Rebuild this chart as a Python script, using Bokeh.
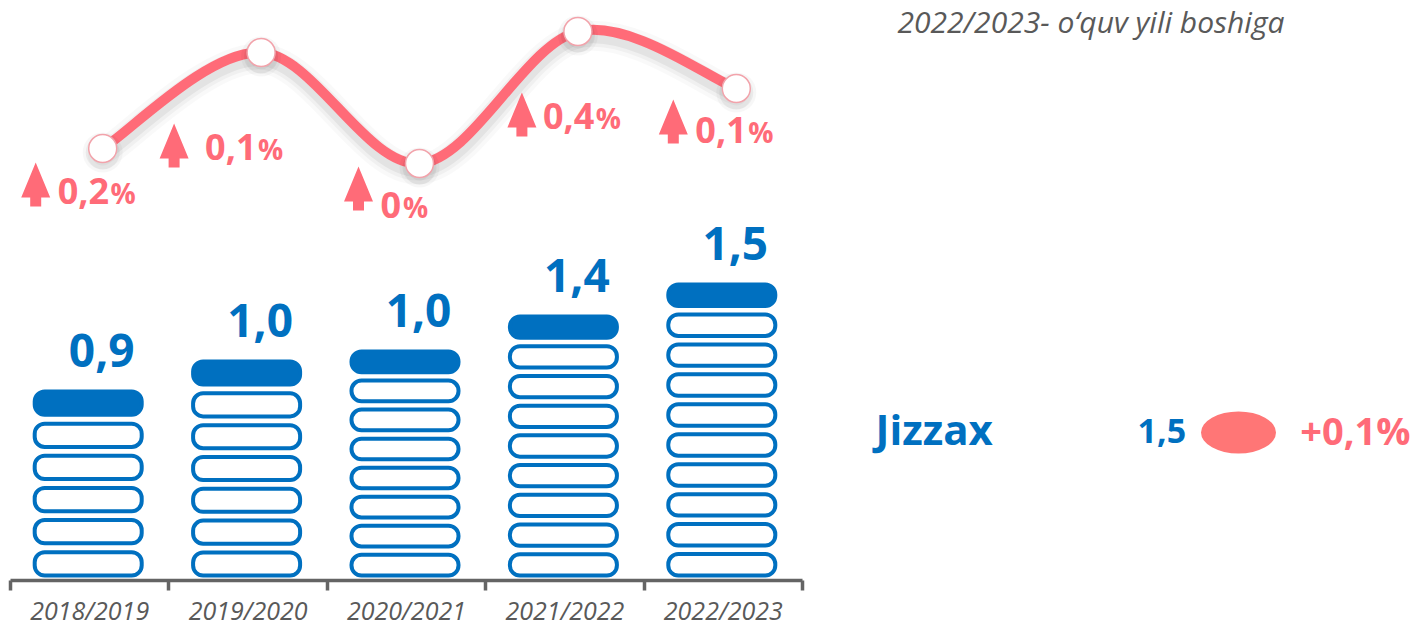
import numpy as np
from bokeh.plotting import figure
from bokeh.models import Range1d, FixedTicker, ColumnDataSource
from bokeh.embed import file_html
from bokeh.resources import INLINE
from bokeh.core.properties import value

# ---------------- data ----------------
years = ["2018/2019", "2019/2020", "2020/2021", "2021/2022", "2022/2023"]
values = [0.9, 1.0, 1.0, 1.4, 1.5]          # bar labels
growth = [0.2, 0.1, 0.0, 0.4, 0.1]          # % growth labels
bar_height = [188, 218, 228, 263, 295]      # drawn height of the pictorial bars (hidden axis units)
pill_count = [6, 7, 8, 9, 10]               # number of stacked symbols per bar
line_level = [429, 525, 414, 546, 489]      # decorative trend line (hidden axis units)
region = "Jizzax"
subtitle = "2022/2023- o\u2018quv yili boshiga"

# ---------------- annotation layout (px) ----------------
arrow_dx = [-54, -74, -48, -43, -50]        # arrow centre relative to category centre
arrow_base = [371, 410, 367, 441, 434]      # arrow bottom (hidden axis units)
pct_dx = [-32, -43, -26, -22, -28]          # text left edge relative to category centre
pct_base = [374, 418, 360, 449, 435]        # text baseline (hidden axis units)

BLUE = "#0070C0"
PINK = "#FF6B78"
SALMON = "#FF7676"
AXIS_GREY = "#646464"
LABEL_GREY = "#595959"
FONT = "Open Sans"
BASE_FIX = 0.36                             # em correction for the text baseline

N = len(years)
UX = 158.4                                  # px per category
FRAME_W, FRAME_H = 1400, 580
TOP = FRAME_H - 3                           # y data at frame top
PX = 1.0 / UX


def fmt1(v):
    return ("%.1f" % v).replace(".", ",")


def fmtg(v):
    return ("%g" % v).replace(".", ",")


def ax_x(img_x):            # picture x (px) -> data x
    return (img_x - 10) / UX


def ax_y(img_y):            # picture y (px) -> data y
    return TOP - img_y


p = figure(frame_width=FRAME_W, frame_height=FRAME_H,
           x_range=Range1d(0, FRAME_W / UX), y_range=Range1d(-3, TOP),
           output_backend="svg", toolbar_location=None, y_axis_location=None,
           min_border_left=10, min_border_right=0, min_border_top=0, min_border_bottom=0)
p.outline_line_color = None
p.xgrid.visible = False
p.ygrid.visible = False

centers = [i + 0.5 for i in range(N)]

# ---------------- pictorial bars ----------------
L, R, B, T, F = [], [], [], [], []
half_w = 53.5 * PX
for c, h, n in zip(centers, bar_height, pill_count):
    pitch = h / (n - 0.15)
    ph = 0.85 * pitch
    for k in range(n):
        b = k * pitch
        L.append(c - half_w - 1.5 * PX)
        R.append(c + half_w - 1.5 * PX)
        B.append(b + 2)
        T.append(b + ph - 2)
        F.append(BLUE if k == n - 1 else "white")
p.quad(left="l", right="r", bottom="b", top="t",
       source=ColumnDataSource(dict(l=L, r=R, b=B, t=T, f=F)),
       fill_color="f", line_color=BLUE, line_width=4, border_radius=10)

# value labels
p.text(x=centers, y=bar_height, text=[fmt1(v) for v in values],
       x_offset=12, y_offset=-22 - BASE_FIX * 46, text_align="center",
       text_baseline="alphabetic",
       text_font=value(FONT), text_font_style="bold", text_font_size="46px",
       text_color=BLUE)

# ---------------- smooth trend line ----------------
lx = [c + 13 * PX for c in centers]
ly = list(line_level)
pts = np.array(list(zip(lx, ly)), dtype=float)
x0, y0, x1, y1, cx0, cy0, cx1, cy1 = [], [], [], [], [], [], [], []
for i in range(N - 1):
    pm = pts[max(i - 1, 0)]
    pa = pts[i]
    pb = pts[i + 1]
    pn = pts[min(i + 2, N - 1)]
    c0 = pa + (pb - pm) / 6.0
    c1 = pb - (pn - pa) / 6.0
    x0.append(pa[0]); y0.append(pa[1]); x1.append(pb[0]); y1.append(pb[1])
    cx0.append(c0[0]); cy0.append(c0[1]); cx1.append(c1[0]); cy1.append(c1[1])

for w, a in [(30, 0.025), (22, 0.035), (15, 0.05)]:
    sh = 6
    p.bezier(x0=x0, y0=[v - sh for v in y0], x1=x1, y1=[v - sh for v in y1],
             cx0=cx0, cy0=[v - sh for v in cy0], cx1=cx1, cy1=[v - sh for v in cy1],
             line_color="black", line_alpha=a, line_width=w, line_cap="round")
p.bezier(x0=x0, y0=y0, x1=x1, y1=y1, cx0=cx0, cy0=cy0, cx1=cx1, cy1=cy1,
         line_color=PINK, line_width=10, line_cap="round")
for s, a in [(40, 0.03), (34, 0.05)]:
    p.scatter(lx, [v - 4 for v in ly], size=s, marker="circle",
              fill_color="black", fill_alpha=a, line_color=None)
p.scatter(lx, ly, size=28, marker="circle", fill_color="white",
          line_color="#F2A3AB", line_width=1.5)

# ---------------- growth arrows + labels ----------------
shape = [(-5.5, 0), (5.5, 0), (5.5, 9), (14.5, 9), (0, 44), (-14.5, 9), (-5.5, 9)]
axs, ays = [], []
for c, dx, b in zip(centers, arrow_dx, arrow_base):
    axs.append([c + (dx + sx) * PX for sx, sy in shape])
    ays.append([b + sy for sx, sy in shape])
p.patches(axs, ays, fill_color=PINK, line_color=None)

CW = {",": 0.27}
num_txt = [fmtg(g) for g in growth]
p.text(x=[c + d * PX for c, d in zip(centers, pct_dx)], y=pct_base, text=num_txt,
       y_offset=-BASE_FIX * 36,
       text_align="left", text_baseline="alphabetic",
       text_font=value(FONT), text_font_style="bold", text_font_size="36px",
       text_color=PINK)
pct_x = []
for c, d, t in zip(centers, pct_dx, num_txt):
    w = sum(CW.get(ch, 0.572) for ch in t) * 36
    pct_x.append(c + (d + w + 2) * PX)
p.text(x=pct_x, y=pct_base, text=["%"] * N, y_offset=-BASE_FIX * 28,
       text_align="left", text_baseline="alphabetic",
       text_font=value(FONT), text_font_style="bold", text_font_size="28px",
       text_color=PINK)

# ---------------- x axis ----------------
ax = p.xaxis[0]
ax.bounds = (0, N)
ax.ticker = FixedTicker(ticks=centers, minor_ticks=list(range(N + 1)))
ax.major_label_overrides = {c: y for c, y in zip(centers, years)}
ax.axis_line_color = AXIS_GREY
ax.axis_line_width = 3.5
ax.major_tick_line_color = None
ax.major_tick_out = 0
ax.major_tick_in = 0
ax.minor_tick_line_color = AXIS_GREY
ax.minor_tick_line_width = 3.5
ax.minor_tick_out = 10
ax.minor_tick_in = 0
ax.major_label_standoff = 2
ax.major_label_text_font = FONT
ax.major_label_text_font_style = "italic"
ax.major_label_text_font_size = "25px"
ax.major_label_text_color = LABEL_GREY

# ---------------- right-hand summary ----------------
p.text(x=[ax_x(897)], y=[ax_y(32)], text=[subtitle], y_offset=-BASE_FIX * 30,
       text_align="left", text_baseline="alphabetic",
       text_font=value(FONT), text_font_style="italic", text_font_size="30px",
       text_color=LABEL_GREY)
p.text(x=[ax_x(875)], y=[ax_y(443)], text=[region], y_offset=-BASE_FIX * 42,
       text_align="left", text_baseline="alphabetic",
       text_font=value(FONT), text_font_style="bold", text_font_size="42px",
       text_color=BLUE)
p.text(x=[ax_x(1137)], y=[ax_y(443)], text=[fmt1(values[-1])], y_offset=-BASE_FIX * 34,
       text_align="left", text_baseline="alphabetic",
       text_font=value(FONT), text_font_style="bold", text_font_size="34px",
       text_color=BLUE)
p.ellipse(x=[ax_x(1238)], y=[ax_y(432)], width=75 * PX, height=42,
          fill_color=SALMON, line_color=None)
p.text(x=[ax_x(1410)], y=[ax_y(443)], text=["+" + fmtg(growth[-1]) + "%"],
       y_offset=-BASE_FIX * 38, text_align="right",
       text_baseline="alphabetic", text_font=value(FONT), text_font_style="bold",
       text_font_size="38px", text_color=PINK)

open("out.html", "w").write(file_html(p, INLINE))
